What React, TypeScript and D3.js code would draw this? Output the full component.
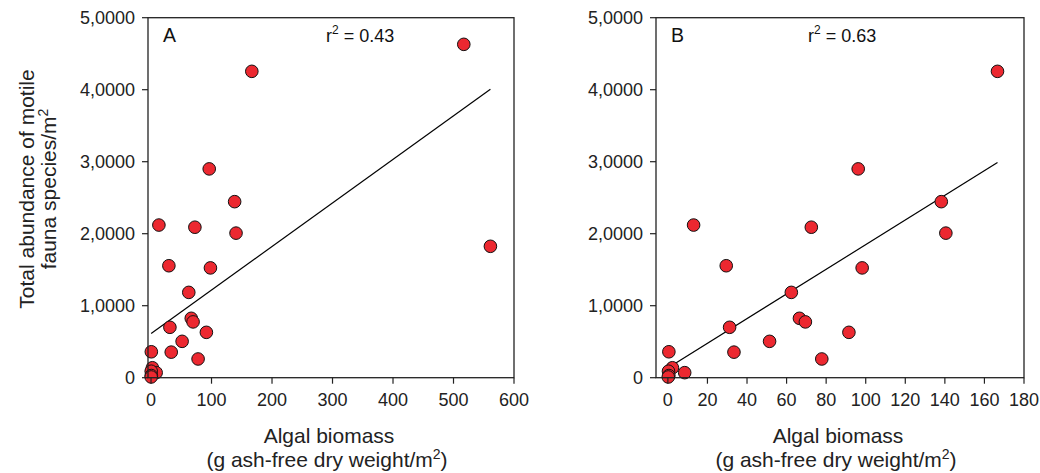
import React from "react";
import * as d3 from "d3";

// Shared observations (panel B data; panel A adds two outliers)
const biomass = [0.5, 2.3, 8.5, 0.3, 0.5, 0.2, 13, 72.5, 29.5, 62.4, 66.5, 69.5, 31.2, 91.5, 51.4, 33.4, 77.8, 96.2, 138.2, 140.5, 98.2, 166.6];
const abundance = [3600, 1380, 700, 900, 300, 100, 21200, 20900, 15550, 11850, 8250, 7750, 7000, 6300, 5050, 3550, 2600, 29000, 24450, 20080, 15250, 42550];
const outlierBiomass = [517, 561];
const outlierAbundance = [46300, 18250];

const yTicks = [0, 10000, 20000, 30000, 40000, 50000];
const yTickLabels = ["0", "1,0000", "2,0000", "3,0000", "4,0000", "5,0000"];
const xTicksA = [0, 100, 200, 300, 400, 500, 600];
const xTicksB = [0, 20, 40, 60, 80, 100, 120, 140, 160, 180];

// regression fits: [intercept, slope]
const fitA = [6120, 60.5];
const fitB = [1350, 171.3];
const r2Labels = ["0.43", "0.63"];
const panelLabels = ["A", "B"];

const FONT = "Liberation Sans, Arial, sans-serif";

type PanelProps = {
  xs: number[];
  ys: number[];
  xDomain: [number, number];
  xRange: [number, number];
  xTicks: number[];
  fit: number[];
  label: string;
  r2: string;
  labelX: number;
  r2X: number;
};

function Panel({ xs, ys, xDomain, xRange, xTicks, fit, label, r2, labelX, r2X }: PanelProps) {
  const x = d3.scaleLinear().domain(xDomain).range(xRange);
  const y = d3.scaleLinear().domain([0, 50000]).range([377.7, 17.7]);
  const [x0, x1] = xRange;
  const yTop = y(50000);
  const yBot = y(0);
  const minX = d3.min(xs) as number;
  const maxX = d3.max(xs) as number;
  const line = d3.line<number>().x((d) => x(d)).y((d) => y(fit[0] + fit[1] * d));
  const cx = (x0 + x1) / 2;
  return (
    <g>
      <path d={line([minX, maxX]) || ""} stroke="#000" strokeWidth={1.2} fill="none" />
      {xs.map((v, i) => (
        <circle key={i} cx={x(v)} cy={y(ys[i])} r={6.3} fill="#EC2830" stroke="#111" strokeWidth={1} />
      ))}
      <rect x={x0} y={yTop} width={x1 - x0} height={yBot - yTop} fill="none" stroke="#222" strokeWidth={1.3} />
      {yTicks.map((t, i) => (
        <g key={t}>
          <line x1={x0 - 6} x2={x0} y1={y(t)} y2={y(t)} stroke="#222" strokeWidth={1.2} />
          <text x={x0 - 13} y={y(t) + 6} textAnchor="end" fontSize={18} fontFamily={FONT} fill="#222">
            {yTickLabels[i]}
          </text>
        </g>
      ))}
      {xTicks.map((t) => (
        <g key={t}>
          <line x1={x(t)} x2={x(t)} y1={yBot} y2={yBot + 6} stroke="#222" strokeWidth={1.2} />
          <text x={x(t)} y={yBot + 28} textAnchor="middle" fontSize={18} fontFamily={FONT} fill="#222">
            {t}
          </text>
        </g>
      ))}
      <text x={labelX} y={42} fontSize={19.5} fontFamily={FONT} fill="#111">{label}</text>
      <text x={r2X} y={42} fontSize={18} fontFamily={FONT} fill="#111">
        r<tspan dy={-8} fontSize={12}>2</tspan>
        <tspan dy={8}> = {r2}</tspan>
      </text>
      <text x={cx - 2} y={443} textAnchor="middle" fontSize={21} fontFamily={FONT} fill="#222">Algal biomass</text>
      <text x={cx - 4} y={467} textAnchor="middle" fontSize={21} fontFamily={FONT} fill="#222">
        (g ash-free dry weight/m<tspan dy={-8} fontSize={14}>2</tspan><tspan dy={8}>)</tspan>
      </text>
    </g>
  );
}

export default function App() {
  const xsA = biomass.concat(outlierBiomass);
  const ysA = abundance.concat(outlierAbundance);
  return (
    <svg width={1040} height={473} style={{ position: "absolute", left: 0, top: 0, background: "#fff" }}>
      <Panel xs={xsA} ys={ysA} xDomain={[-5, 600]} xRange={[148, 514]} xTicks={xTicksA} fit={fitA}
        label={panelLabels[0]} r2={r2Labels[0]} labelX={163} r2X={326} />
      <Panel xs={biomass} ys={abundance} xDomain={[-6, 180]} xRange={[656, 1024]} xTicks={xTicksB} fit={fitB}
        label={panelLabels[1]} r2={r2Labels[1]} labelX={671} r2X={808} />
      <g transform="translate(0,189) rotate(-90)">
        <text x={0} y={34} textAnchor="middle" fontSize={21} fontFamily={FONT} fill="#222">Total abundance of motile</text>
        <text x={0} y={56} textAnchor="middle" fontSize={21} fontFamily={FONT} fill="#222">
          fauna species/m<tspan dy={-8} fontSize={14}>2</tspan>
        </text>
      </g>
    </svg>
  );
}
